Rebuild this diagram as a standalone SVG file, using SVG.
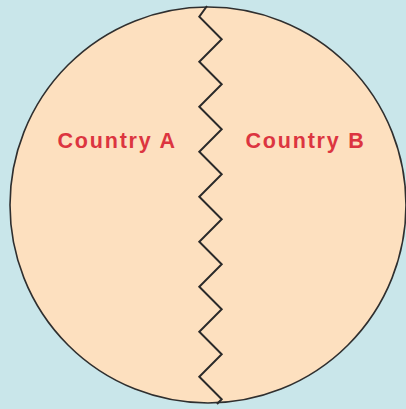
<svg xmlns="http://www.w3.org/2000/svg" width="406" height="409" viewBox="0 0 406 409">
<style>
.lbl{font-family:"Liberation Sans",Arial,sans-serif;font-weight:bold;font-size:21.5px;fill:#dc3540;letter-spacing:1.8px}
.edge{fill:none;stroke:#2a2a2a;stroke-width:2;stroke-linejoin:miter}
</style>
<rect width="406" height="409" fill="#c9e6ea"/>
<g id="circle">
<circle cx="208" cy="205" r="198" fill="#fde0bf" stroke="#2f2f2f" stroke-width="1.6"/>
</g>
<g id="connectors">
<polyline class="edge" points="207,6 199.3,16.7 221.7,39.2 199.3,61.7 221.7,84.2 199.3,106.7 221.7,129.2 199.3,151.7 221.7,174.2 199.3,196.7 221.7,219.2 199.3,241.7 221.7,264.2 199.3,286.7 221.7,309.2 199.3,331.7 221.7,354.2 199.3,376.7 221.7,399.2 217,404"/>
</g>
<g id="countryA"><text class="lbl" x="57.5" y="148.3">Country A</text></g>
<g id="countryB"><text class="lbl" x="245.5" y="148.3">Country B</text></g>
</svg>
